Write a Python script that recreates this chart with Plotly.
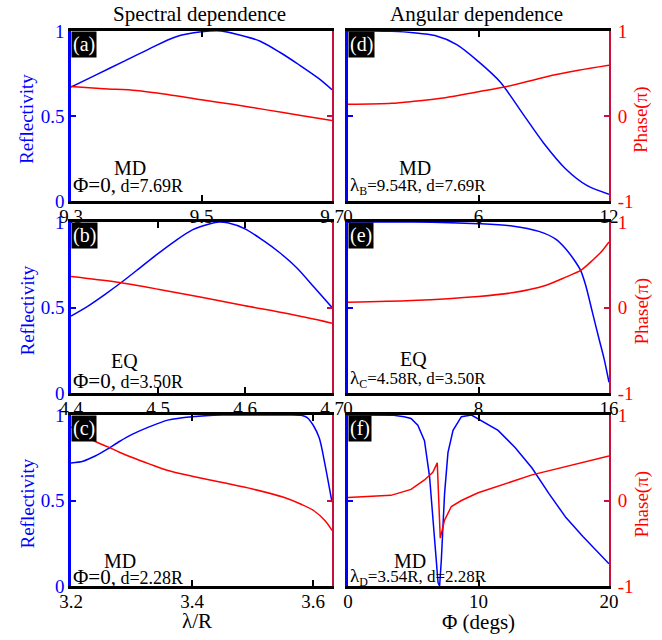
import plotly.graph_objects as go

FONT = "Liberation Serif, Times New Roman, serif"
BLUE = "#0000ff"
RED = "#ff0000"
EDGE_RED = "#c8103c"
W, H = 662, 640

# ---------------- data ----------------
# (a) spectral dependence, MD, d = 7.69R
a_lam = [9.30, 9.34, 9.38, 9.42, 9.46, 9.50, 9.53, 9.56, 9.59, 9.62, 9.65, 9.68, 9.70]
a_ref = [0.67, 0.745, 0.82, 0.895, 0.965, 0.995, 1.0, 0.975, 0.94, 0.875, 0.80, 0.72, 0.655]
a_ph_lam = [9.30, 9.35, 9.40, 9.45, 9.50, 9.55, 9.60, 9.65, 9.70]
a_ph = [0.346, 0.32, 0.30, 0.25, 0.19, 0.135, 0.072, 0.01, -0.052]

# (b) spectral dependence, EQ, d = 3.50R
b_lam = [4.40, 4.42, 4.44, 4.46, 4.48, 4.50, 4.52, 4.54, 4.56, 4.57, 4.58, 4.60, 4.62, 4.64, 4.66, 4.68, 4.70]
b_ref = [0.45, 0.51, 0.58, 0.655, 0.735, 0.815, 0.89, 0.955, 0.99, 1.0, 0.995, 0.96, 0.895, 0.82, 0.73, 0.615, 0.50]
b_ph_lam = [4.40, 4.45, 4.50, 4.55, 4.60, 4.65, 4.70]
b_ph = [0.362, 0.30, 0.214, 0.12, 0.02, -0.074, -0.183]

# (c) spectral dependence, MD, d = 2.28R
c_lam = [3.20, 3.22, 3.24, 3.26, 3.28, 3.30, 3.33, 3.36, 3.40, 3.45, 3.50, 3.55, 3.58, 3.59, 3.60, 3.61, 3.62, 3.631]
c_ref = [0.72, 0.73, 0.76, 0.80, 0.845, 0.885, 0.932, 0.97, 0.99, 1.0, 1.0, 1.0, 0.998, 0.985, 0.94, 0.865, 0.70, 0.49]
c_ph_lam = [3.20, 3.22, 3.24, 3.26, 3.28, 3.30, 3.33, 3.36, 3.40, 3.45, 3.50, 3.55, 3.58, 3.60, 3.62, 3.631]
c_ph = [0.86, 0.77, 0.69, 0.63, 0.565, 0.505, 0.425, 0.35, 0.284, 0.21, 0.134, 0.04, -0.044, -0.114, -0.24, -0.35]

# (d) angular dependence at lambda_B = 9.54R
d_ang = [0, 1, 2, 3, 4, 5, 6, 7, 8, 9, 10, 11, 12]
d_ref = [1.0, 1.0, 0.998, 0.99, 0.973, 0.92, 0.82, 0.70, 0.52, 0.34, 0.19, 0.09, 0.04]
d_ph_ang = [0, 2, 2.93, 4.47, 6.0, 7.2, 9.08, 10.6, 12]
d_ph = [0.137, 0.149, 0.17, 0.216, 0.286, 0.34, 0.46, 0.537, 0.596]

# (e) angular dependence at lambda_C = 4.58R
e_ang = [0, 4, 8, 10.06, 11.7, 12.73, 13.34, 13.95, 14.26, 14.57, 14.98, 15.39, 15.7, 16]
e_ref = [1.0, 1.0, 0.99, 0.977, 0.945, 0.90, 0.844, 0.766, 0.717, 0.63, 0.473, 0.316, 0.2, 0.0625]
e_ph_ang = [0, 3.91, 8, 10.06, 12.1, 13.34, 14.26, 14.98, 15.6, 16]
e_ph = [0.0625, 0.082, 0.129, 0.172, 0.258, 0.355, 0.434, 0.55, 0.668, 0.766]

# (f) angular dependence at lambda_D = 3.54R
f_ang = [0, 2, 3.5, 4.3, 4.83, 5.35, 5.86, 6.25, 6.5, 6.7, 6.9, 7.02, 7.15, 7.4, 7.66, 8.05, 8.69, 9.46,
         11.5, 12.8, 14.1, 15.4, 16.7, 18.0, 19.3, 20]
f_ref = [1.0, 1.0, 0.998, 0.99, 0.98, 0.94, 0.85, 0.64, 0.385, 0.17, 0.02, 0.0, 0.15, 0.54, 0.78, 0.91, 0.99, 1.0,
         0.91, 0.81, 0.69, 0.54, 0.40, 0.29, 0.19, 0.13]
f_ph_ang = [0, 3.29, 4.83, 5.86, 6.5, 6.84, 7.07, 7.4, 7.92, 8.69, 9.97, 12.55, 14.1, 20]
f_ph = [0.035, 0.06, 0.13, 0.24, 0.33, 0.44, -0.44, -0.23, -0.07, 0.0, 0.09, 0.22, 0.30, 0.52]

# axis ticks
a_ticks = [9.3, 9.5, 9.7]
b_ticks = [4.4, 4.5, 4.6, 4.7]
c_ticks = [3.2, 3.4, 3.6]
d_ticks = [0, 6, 12]
e_ticks = [0, 8, 16]
f_ticks = [0, 10, 20]
ref_ticks = [0, 0.5, 1]
phase_ticks = [-1, 0, 1]

labels = ["(a)", "(b)", "(c)", "(d)", "(e)", "(f)"]
modes = ["MD", "EQ", "MD", "MD", "EQ", "MD"]
params = [
    "<span style='font-size:21px'>Φ=0,</span> d=7.69R",
    "<span style='font-size:21px'>Φ=0,</span> d=3.50R",
    "<span style='font-size:21px'>Φ=0,</span> d=2.28R",
    "<span style='font-size:19px'>λ</span><sub>B</sub>=9.54R, d=7.69R",
    "<span style='font-size:19px'>λ</span><sub>C</sub>=4.58R, d=3.50R",
    "<span style='font-size:19px'>λ</span><sub>D</sub>=3.54R, d=2.28R",
]
col_titles = ["Spectral dependence", "Angular dependence"]
x_titles = ["λ/R", "Φ (degs)"]

# ---------------- layout geometry (pixels) ----------------
COLS = [(71, 332), (348, 609)]
ROWS = [(31, 201), (222, 393), (415, 586)]


def px(x):
    return x / W


def py(y):
    return 1 - y / H


panels = [
    dict(col=0, row=0, x=a_lam, r=a_ref, xp=a_ph_lam, p=a_ph, xr=[9.3, 9.7], xt=a_ticks, mode_xy=(130, 168), par_y=185),
    dict(col=0, row=1, x=b_lam, r=b_ref, xp=b_ph_lam, p=b_ph, xr=[4.4, 4.7], xt=b_ticks, mode_xy=(124, 361), par_y=381),
    dict(col=0, row=2, x=c_lam, r=c_ref, xp=c_ph_lam, p=c_ph, xr=[3.2, 3.631], xt=c_ticks, mode_xy=(120, 561), par_y=577),
    dict(col=1, row=0, x=d_ang, r=d_ref, xp=d_ph_ang, p=d_ph, xr=[0, 12], xt=d_ticks, mode_xy=(415, 168), par_y=186),
    dict(col=1, row=1, x=e_ang, r=e_ref, xp=e_ph_ang, p=e_ph, xr=[0, 16], xt=e_ticks, mode_xy=(413, 359), par_y=379),
    dict(col=1, row=2, x=f_ang, r=f_ref, xp=f_ph_ang, p=f_ph, xr=[0, 20], xt=f_ticks, mode_xy=(410, 561), par_y=577),
]

fig = go.Figure()
layout = dict(
    width=W, height=H,
    # fixed zero margins: edge annotations must not push the plot area inward
    margin=dict(l=0, r=0, t=0, b=0, autoexpand=False),
    paper_bgcolor="white", plot_bgcolor="white",
    showlegend=False,
    font=dict(family=FONT, size=18, color="black"),
)
annotations = []

for i, pn in enumerate(panels):
    n = i + 1
    xs = "" if n == 1 else str(n)
    xref, yref, y2ref = "x" + xs, "y" + xs, "y" + str(n + 6)
    x0, x1 = COLS[pn["col"]]
    y0, y1 = ROWS[pn["row"]]
    left = pn["col"] == 0
    sharp = n == 6  # the resonance dip in (f) is drawn with straight segments

    line_kw = dict(width=1.5, shape="linear") if sharp else dict(width=1.5, shape="spline", smoothing=0.8)
    fig.add_trace(go.Scatter(x=pn["x"], y=pn["r"], xaxis=xref, yaxis=yref, mode="lines",
                             line=dict(color=BLUE, **line_kw)))
    fig.add_trace(go.Scatter(x=pn["xp"], y=pn["p"], xaxis=xref, yaxis=y2ref, mode="lines",
                             line=dict(color=RED, **line_kw)))

    layout["xaxis" + xs] = dict(
        domain=[px(x0), px(x1)], anchor=yref, range=pn["xr"],
        tickvals=pn["xt"], ticktext=[f"{v:g}" for v in pn["xt"]],
        ticks="inside", ticklen=6, tickwidth=1.5, tickcolor="black",
        showline=True, linecolor="black", linewidth=2.5, mirror="ticks",
        showgrid=False, zeroline=False, automargin=False, ticklabelstandoff=-4,
        tickfont=dict(family=FONT, size=19, color="black"),
    )
    layout["yaxis" + xs] = dict(
        domain=[py(y1), py(y0)], anchor=xref, range=[0, 1],
        tickvals=ref_ticks, ticktext=[f"{v:g}" for v in ref_ticks],
        showticklabels=left, ticks="inside", ticklen=5, tickwidth=1.5, tickcolor=BLUE,
        showline=True, linecolor=BLUE, linewidth=2.5,
        showgrid=False, zeroline=False, automargin=False,
        tickfont=dict(family=FONT, size=19, color=BLUE),
    )
    layout["yaxis" + str(n + 6)] = dict(
        overlaying=yref, side="right", anchor=xref, range=[-1, 1],
        tickvals=phase_ticks, ticktext=[f"{v:g}" for v in phase_ticks],
        showticklabels=not left, ticks="inside", ticklen=5, tickwidth=1.5, tickcolor=EDGE_RED,
        showline=True, linecolor=EDGE_RED, linewidth=2,
        showgrid=False, zeroline=False, automargin=False, ticklabelstandoff=3,
        tickfont=dict(family=FONT, size=19, color=RED),
    )

    # panel tag
    annotations.append(dict(
        text=labels[i], x=px(x0), y=py(y0), xref="paper", yref="paper",
        xanchor="left", yanchor="top", showarrow=False, bgcolor="black", borderpad=1,
        font=dict(family=FONT, size=20, color="white"),
    ))
    # mode and parameters
    mx, my = pn["mode_xy"]
    annotations.append(dict(
        text=modes[i], x=px(mx), y=py(my), xref="paper", yref="paper",
        xanchor="center", yanchor="middle", showarrow=False,
        font=dict(family=FONT, size=20, color="black"),
    ))
    annotations.append(dict(
        text=params[i], x=px(x0 + 1), y=py(pn["par_y"]), xref="paper", yref="paper",
        xanchor="left", yanchor="middle", showarrow=False, borderpad=0,
        font=dict(family=FONT, size=18 if left else 17, color="black"),
    ))

# side titles
for (y0, y1) in ROWS:
    yc = (y0 + y1) / 2 + 3
    annotations.append(dict(
        text="Reflectivity", x=px(27), y=py(yc), xref="paper", yref="paper",
        xanchor="center", yanchor="middle", textangle=-90, showarrow=False,
        font=dict(family=FONT, size=19, color=BLUE),
    ))
    annotations.append(dict(
        text="Phase(π)", x=px(641), y=py(yc + 1), xref="paper", yref="paper",
        xanchor="center", yanchor="middle", textangle=-90, showarrow=False,
        font=dict(family=FONT, size=19, color=RED),
    ))

# column titles and x-axis titles
for k, (x0, x1) in enumerate(COLS):
    annotations.append(dict(
        text=col_titles[k], x=px((x0 + x1) / 2 - 2), y=py(14), xref="paper", yref="paper",
        xanchor="center", yanchor="middle", showarrow=False,
        font=dict(family=FONT, size=21, color="black"),
    ))
annotations.append(dict(
    text=x_titles[0], x=px(197), y=py(621), xref="paper", yref="paper",
    xanchor="center", yanchor="middle", showarrow=False,
    font=dict(family=FONT, size=21, color="black"),
))
annotations.append(dict(
    text=x_titles[1], x=px(478), y=py(622), xref="paper", yref="paper",
    xanchor="center", yanchor="middle", showarrow=False,
    font=dict(family=FONT, size=21, color="black"),
))

layout["annotations"] = annotations
fig.update_layout(**layout)
fig.write_html("out.html")
